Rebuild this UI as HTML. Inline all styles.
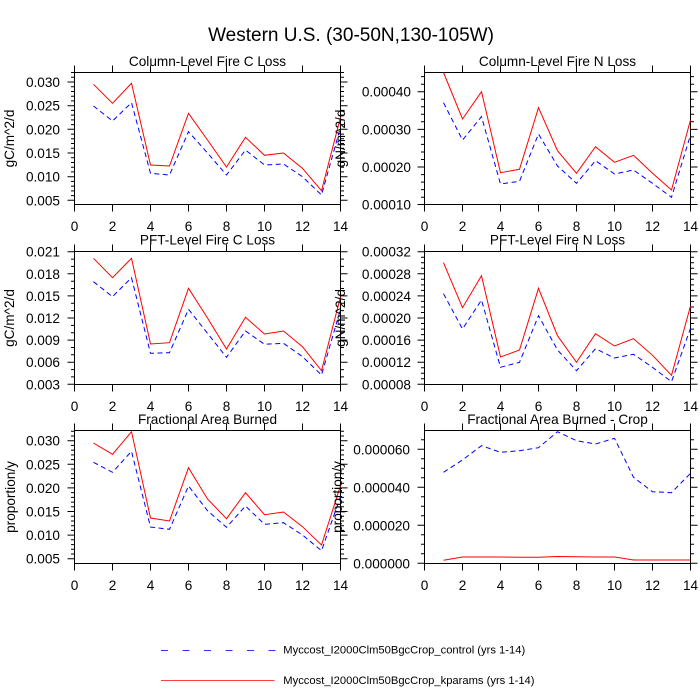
<!DOCTYPE html>
<html><head><meta charset="utf-8"><style>
html,body{margin:0;padding:0;background:#fff;}
svg{display:block;}
text{font-family:"Liberation Sans",Arial,Helvetica,sans-serif;fill:#000;}
</style></head><body>
<svg width="700" height="700" viewBox="0 0 700 700" xmlns="http://www.w3.org/2000/svg">
<rect width="700" height="700" fill="#fff"/>
<defs>
<path id="xtU" d="M0 0v-7M38 0v-7M76 0v-7M114 0v-7M152 0v-7M190 0v-7M228 0v-7M266 0v-7"/>
<path id="xtD" d="M0 0v7M38 0v7M76 0v7M114 0v7M152 0v7M190 0v7M228 0v7M266 0v7"/>
</defs>

<text x="351" y="41" font-size="19" text-anchor="middle">Western U.S. (30-50N,130-105W)</text>

<g fill="none" stroke="#000" stroke-width="1">
<!-- frames -->
<rect x="74.5" y="72.5" width="266" height="132"/>
<rect x="424.5" y="72.5" width="266" height="132"/>
<rect x="74.5" y="251.5" width="266" height="133"/>
<rect x="424.5" y="251.5" width="266" height="133"/>
<rect x="74.5" y="430.5" width="266" height="133"/>
<rect x="424.5" y="430.5" width="266" height="133"/>
<!-- x ticks -->
<use href="#xtU" x="74.5" y="72.5"/><use href="#xtD" x="74.5" y="204.5"/>
<use href="#xtU" x="424.5" y="72.5"/><use href="#xtD" x="424.5" y="204.5"/>
<use href="#xtU" x="74.5" y="251.5"/><use href="#xtD" x="74.5" y="384.5"/>
<use href="#xtU" x="424.5" y="251.5"/><use href="#xtD" x="424.5" y="384.5"/>
<use href="#xtU" x="74.5" y="430.5"/><use href="#xtD" x="74.5" y="563.5"/>
<use href="#xtU" x="424.5" y="430.5"/><use href="#xtD" x="424.5" y="563.5"/>

<!-- P1 y ticks -->
<g transform="translate(74.5,0)">
<path d="M0 82h-7M266 82h7M0 105.7h-7M266 105.7h7M0 129.3h-7M266 129.3h7M0 153h-7M266 153h7M0 176.7h-7M266 176.7h7M0 200.3h-7M266 200.3h7"/>
<path d="M0 72.5h-3.5M266 72.5h3.5M0 77.3h-3.5M266 77.3h3.5M0 86.7h-3.5M266 86.7h3.5M0 91.5h-3.5M266 91.5h3.5M0 96.2h-3.5M266 96.2h3.5M0 100.9h-3.5M266 100.9h3.5M0 110.4h-3.5M266 110.4h3.5M0 115.1h-3.5M266 115.1h3.5M0 119.9h-3.5M266 119.9h3.5M0 124.6h-3.5M266 124.6h3.5M0 134.1h-3.5M266 134.1h3.5M0 138.8h-3.5M266 138.8h3.5M0 143.5h-3.5M266 143.5h3.5M0 148.3h-3.5M266 148.3h3.5M0 157.7h-3.5M266 157.7h3.5M0 162.5h-3.5M266 162.5h3.5M0 167.2h-3.5M266 167.2h3.5M0 171.9h-3.5M266 171.9h3.5M0 181.4h-3.5M266 181.4h3.5M0 186.1h-3.5M266 186.1h3.5M0 190.9h-3.5M266 190.9h3.5M0 195.6h-3.5M266 195.6h3.5"/>
</g>
<!-- P2 y ticks -->
<g transform="translate(424.5,0)">
<path d="M0 91.7h-7M266 91.7h7M0 129.4h-7M266 129.4h7M0 167h-7M266 167h7M0 204.5h-7M266 204.5h7"/>
<path d="M0 76.6h-3.5M266 76.6h3.5M0 84.2h-3.5M266 84.2h3.5M0 99.2h-3.5M266 99.2h3.5M0 106.8h-3.5M266 106.8h3.5M0 114.3h-3.5M266 114.3h3.5M0 121.8h-3.5M266 121.8h3.5M0 136.9h-3.5M266 136.9h3.5M0 144.4h-3.5M266 144.4h3.5M0 152h-3.5M266 152h3.5M0 159.5h-3.5M266 159.5h3.5M0 174.6h-3.5M266 174.6h3.5M0 182.1h-3.5M266 182.1h3.5M0 189.6h-3.5M266 189.6h3.5M0 197.2h-3.5M266 197.2h3.5"/>
</g>
<!-- P3 y ticks -->
<g transform="translate(74.5,0)">
<path d="M0 251.7h-7M266 251.7h7M0 273.8h-7M266 273.8h7M0 295.9h-7M266 295.9h7M0 318h-7M266 318h7M0 340.1h-7M266 340.1h7M0 362.2h-7M266 362.2h7M0 384.3h-7M266 384.3h7"/>
<path d="M0 259.1h-3.5M266 259.1h3.5M0 266.4h-3.5M266 266.4h3.5M0 281.2h-3.5M266 281.2h3.5M0 288.5h-3.5M266 288.5h3.5M0 303.3h-3.5M266 303.3h3.5M0 310.6h-3.5M266 310.6h3.5M0 325.4h-3.5M266 325.4h3.5M0 332.7h-3.5M266 332.7h3.5M0 347.5h-3.5M266 347.5h3.5M0 354.8h-3.5M266 354.8h3.5M0 369.6h-3.5M266 369.6h3.5M0 376.9h-3.5M266 376.9h3.5"/>
</g>
<!-- P4 y ticks -->
<g transform="translate(424.5,0)">
<path d="M0 251.7h-7M266 251.7h7M0 273.8h-7M266 273.8h7M0 295.9h-7M266 295.9h7M0 318h-7M266 318h7M0 340.1h-7M266 340.1h7M0 362.2h-7M266 362.2h7M0 384.3h-7M266 384.3h7"/>
<path d="M0 257.2h-3.5M266 257.2h3.5M0 262.8h-3.5M266 262.8h3.5M0 268.3h-3.5M266 268.3h3.5M0 279.3h-3.5M266 279.3h3.5M0 284.9h-3.5M266 284.9h3.5M0 290.4h-3.5M266 290.4h3.5M0 301.4h-3.5M266 301.4h3.5M0 307h-3.5M266 307h3.5M0 312.5h-3.5M266 312.5h3.5M0 323.5h-3.5M266 323.5h3.5M0 329.1h-3.5M266 329.1h3.5M0 334.6h-3.5M266 334.6h3.5M0 345.6h-3.5M266 345.6h3.5M0 351.2h-3.5M266 351.2h3.5M0 356.7h-3.5M266 356.7h3.5M0 367.7h-3.5M266 367.7h3.5M0 373.3h-3.5M266 373.3h3.5M0 378.8h-3.5M266 378.8h3.5"/>
</g>
<!-- P5 y ticks -->
<g transform="translate(74.5,0)">
<path d="M0 440.7h-7M266 440.7h7M0 464.3h-7M266 464.3h7M0 487.9h-7M266 487.9h7M0 511.5h-7M266 511.5h7M0 535.1h-7M266 535.1h7M0 558.7h-7M266 558.7h7"/>
<path d="M0 431.3h-3.5M266 431.3h3.5M0 436h-3.5M266 436h3.5M0 445.4h-3.5M266 445.4h3.5M0 450.1h-3.5M266 450.1h3.5M0 454.9h-3.5M266 454.9h3.5M0 459.6h-3.5M266 459.6h3.5M0 469h-3.5M266 469h3.5M0 473.8h-3.5M266 473.8h3.5M0 478.5h-3.5M266 478.5h3.5M0 483.2h-3.5M266 483.2h3.5M0 492.6h-3.5M266 492.6h3.5M0 497.4h-3.5M266 497.4h3.5M0 502.1h-3.5M266 502.1h3.5M0 506.8h-3.5M266 506.8h3.5M0 516.2h-3.5M266 516.2h3.5M0 521h-3.5M266 521h3.5M0 525.7h-3.5M266 525.7h3.5M0 530.4h-3.5M266 530.4h3.5M0 539.8h-3.5M266 539.8h3.5M0 544.6h-3.5M266 544.6h3.5M0 549.3h-3.5M266 549.3h3.5M0 554h-3.5M266 554h3.5"/>
</g>
<!-- P6 y ticks -->
<g transform="translate(424.5,0)">
<path d="M0 449.3h-7M266 449.3h7M0 487.3h-7M266 487.3h7M0 525.3h-7M266 525.3h7M0 563.3h-7M266 563.3h7"/>
<path d="M0 439.8h-3.5M266 439.8h3.5M0 458.8h-3.5M266 458.8h3.5M0 468.3h-3.5M266 468.3h3.5M0 477.8h-3.5M266 477.8h3.5M0 496.8h-3.5M266 496.8h3.5M0 506.3h-3.5M266 506.3h3.5M0 515.8h-3.5M266 515.8h3.5M0 534.8h-3.5M266 534.8h3.5M0 544.3h-3.5M266 544.3h3.5M0 553.8h-3.5M266 553.8h3.5"/>
</g>
</g>

<!-- data: blue dashed -->
<g fill="none" stroke="#0000ff" stroke-width="1" stroke-dasharray="5 3.5">
<polyline points="93.5,106 112.5,121 131.5,102.7 150.5,173.3 169.5,175 188.5,131.7 207.5,153 226.5,175 245.5,150 264.5,165 283.5,164 302.5,176.7 321.5,195 340.5,127.3"/>
<polyline points="443.5,102.7 462.5,140 481.5,116.7 500.5,184 519.5,181.3 538.5,134 557.5,166 576.5,183.3 595.5,160.7 614.5,174 633.5,170 652.5,183.3 671.5,197.3 690.5,135"/>
<polyline points="93.5,281.7 112.5,296.7 131.5,277.7 150.5,353.3 169.5,352.7 188.5,309.3 207.5,333.3 226.5,357.3 245.5,331 264.5,344.3 283.5,343.3 302.5,356.7 321.5,375 340.5,309.3"/>
<polyline points="443.5,293.7 462.5,329 481.5,300 500.5,367.3 519.5,362.3 538.5,315.7 557.5,350 576.5,370.7 595.5,348.7 614.5,358 633.5,354.3 652.5,367.3 671.5,381.7 690.5,328.3"/>
<polyline points="93.5,462.3 112.5,472.3 131.5,451.3 150.5,527 169.5,529.3 188.5,486 207.5,510.7 226.5,527.3 245.5,506 264.5,524.3 283.5,522.7 302.5,535 321.5,550.7 340.5,496.7"/>
<polyline points="443.5,472.3 462.5,460 481.5,445.7 500.5,452.3 519.5,450.7 538.5,447.7 557.5,431.7 576.5,440.7 595.5,444 614.5,438.3 633.5,477.3 652.5,491.7 671.5,492.7 690.5,473.3"/>
</g>
<!-- data: red solid -->
<g fill="none" stroke="#ff0000" stroke-width="1">
<polyline points="93.5,84.3 112.5,103.3 131.5,83.3 150.5,165 169.5,166 188.5,113.3 207.5,140 226.5,167 245.5,137.3 264.5,155.3 283.5,153 302.5,168.3 321.5,190.7 340.5,117.3"/>
<polyline points="443.5,72.5 462.5,119 481.5,91.7 500.5,172.7 519.5,169.3 538.5,107.7 557.5,150.7 576.5,173.3 595.5,146.7 614.5,162.3 633.5,155.3 652.5,173.3 671.5,190 690.5,120"/>
<polyline points="93.5,258.3 112.5,277.7 131.5,258.3 150.5,344 169.5,342.7 188.5,288.3 207.5,318 226.5,349 245.5,317.3 264.5,334 283.5,331 302.5,346.7 321.5,370.7 340.5,296.7"/>
<polyline points="443.5,262.7 462.5,307.7 481.5,275.7 500.5,357 519.5,350 538.5,288.3 557.5,335.7 576.5,362.3 595.5,333.7 614.5,346 633.5,338.7 652.5,355.3 671.5,375.3 690.5,306"/>
<polyline points="93.5,443 112.5,454.3 131.5,431.7 150.5,518 169.5,521 188.5,467.7 207.5,499 226.5,518.7 245.5,492.7 264.5,514.7 283.5,512 302.5,526.7 321.5,545 340.5,485.7"/>
<polyline points="443.5,560.3 462.5,557 481.5,557 500.5,557 519.5,557.2 538.5,557.2 557.5,556.5 576.5,556.8 595.5,557 614.5,557 633.5,560 652.5,560 671.5,560 690.5,560"/>
</g>

<!-- panel titles -->
<g font-size="13.6" text-anchor="middle">
<text x="207.5" y="66">Column-Level Fire C Loss</text>
<text x="557.5" y="66">Column-Level Fire N Loss</text>
<text x="207.5" y="244.5">PFT-Level Fire C Loss</text>
<text x="557.5" y="244.5">PFT-Level Fire N Loss</text>
<text x="207.5" y="424">Fractional Area Burned</text>
<text x="557.5" y="424">Fractional Area Burned - Crop</text>
</g>

<!-- x tick labels -->
<g font-size="13.6" text-anchor="middle">
<g>
<text x="74.5" y="231">0</text><text x="112.5" y="231">2</text><text x="150.5" y="231">4</text><text x="188.5" y="231">6</text><text x="226.5" y="231">8</text><text x="264.5" y="231">10</text><text x="302.5" y="231">12</text><text x="340.5" y="231">14</text>
<text x="424.5" y="231">0</text><text x="462.5" y="231">2</text><text x="500.5" y="231">4</text><text x="538.5" y="231">6</text><text x="576.5" y="231">8</text><text x="614.5" y="231">10</text><text x="652.5" y="231">12</text><text x="690.5" y="231">14</text>
</g>
<g>
<text x="74.5" y="411">0</text><text x="112.5" y="411">2</text><text x="150.5" y="411">4</text><text x="188.5" y="411">6</text><text x="226.5" y="411">8</text><text x="264.5" y="411">10</text><text x="302.5" y="411">12</text><text x="340.5" y="411">14</text>
<text x="424.5" y="411">0</text><text x="462.5" y="411">2</text><text x="500.5" y="411">4</text><text x="538.5" y="411">6</text><text x="576.5" y="411">8</text><text x="614.5" y="411">10</text><text x="652.5" y="411">12</text><text x="690.5" y="411">14</text>
</g>
<g>
<text x="74.5" y="590">0</text><text x="112.5" y="590">2</text><text x="150.5" y="590">4</text><text x="188.5" y="590">6</text><text x="226.5" y="590">8</text><text x="264.5" y="590">10</text><text x="302.5" y="590">12</text><text x="340.5" y="590">14</text>
<text x="424.5" y="590">0</text><text x="462.5" y="590">2</text><text x="500.5" y="590">4</text><text x="538.5" y="590">6</text><text x="576.5" y="590">8</text><text x="614.5" y="590">10</text><text x="652.5" y="590">12</text><text x="690.5" y="590">14</text>
</g>
</g>

<!-- y tick labels -->
<g font-size="13.6" text-anchor="end">
<text x="60" y="87">0.030</text><text x="60" y="110.7">0.025</text><text x="60" y="134.3">0.020</text><text x="60" y="158">0.015</text><text x="60" y="181.7">0.010</text><text x="60" y="205.3">0.005</text>
<text x="411" y="96.7">0.00040</text><text x="411" y="134.4">0.00030</text><text x="411" y="172">0.00020</text><text x="411" y="209.7">0.00010</text>
<text x="60" y="256.7">0.021</text><text x="60" y="278.8">0.018</text><text x="60" y="300.9">0.015</text><text x="60" y="323">0.012</text><text x="60" y="345.1">0.009</text><text x="60" y="367.2">0.006</text><text x="60" y="389.3">0.003</text>
<text x="411" y="256.7">0.00032</text><text x="411" y="278.8">0.00028</text><text x="411" y="300.9">0.00024</text><text x="411" y="323">0.00020</text><text x="411" y="345.1">0.00016</text><text x="411" y="367.2">0.00012</text><text x="411" y="389.3">0.00008</text>
<text x="60" y="445.7">0.030</text><text x="60" y="469.3">0.025</text><text x="60" y="492.9">0.020</text><text x="60" y="516.5">0.015</text><text x="60" y="540.1">0.010</text><text x="60" y="563.7">0.005</text>
<text x="410" y="454.3">0.000060</text><text x="410" y="492.3">0.000040</text><text x="410" y="530.3">0.000020</text><text x="410" y="568.3">0.000000</text>
</g>

<!-- y axis labels -->
<g font-size="13.6" text-anchor="middle">
<text transform="translate(14,138.5) rotate(-90)">gC/m^2/d</text>
<text transform="translate(345,138.5) rotate(-90)">gN/m^2/d</text>
<text transform="translate(14,318) rotate(-90)">gC/m^2/d</text>
<text transform="translate(345,318) rotate(-90)">gN/m^2/d</text>
<text transform="translate(15,497) rotate(-90)">proportion/y</text>
<text transform="translate(342,497) rotate(-90)">proportion/y</text>
</g>

<!-- legend -->
<line x1="161" y1="650.5" x2="276" y2="650.5" stroke="#3333ff" stroke-width="1" stroke-dasharray="7 14.5"/>
<text x="283.3" y="653.5" font-size="11.2">Myccost_I2000Clm50BgcCrop_control (yrs 1-14)</text>
<line x1="161" y1="680.5" x2="274.5" y2="680.5" stroke="#ff4040" stroke-width="1"/>
<text x="283.3" y="684" font-size="11.2">Myccost_I2000Clm50BgcCrop_kparams (yrs 1-14)</text>
</svg>
</body></html>
